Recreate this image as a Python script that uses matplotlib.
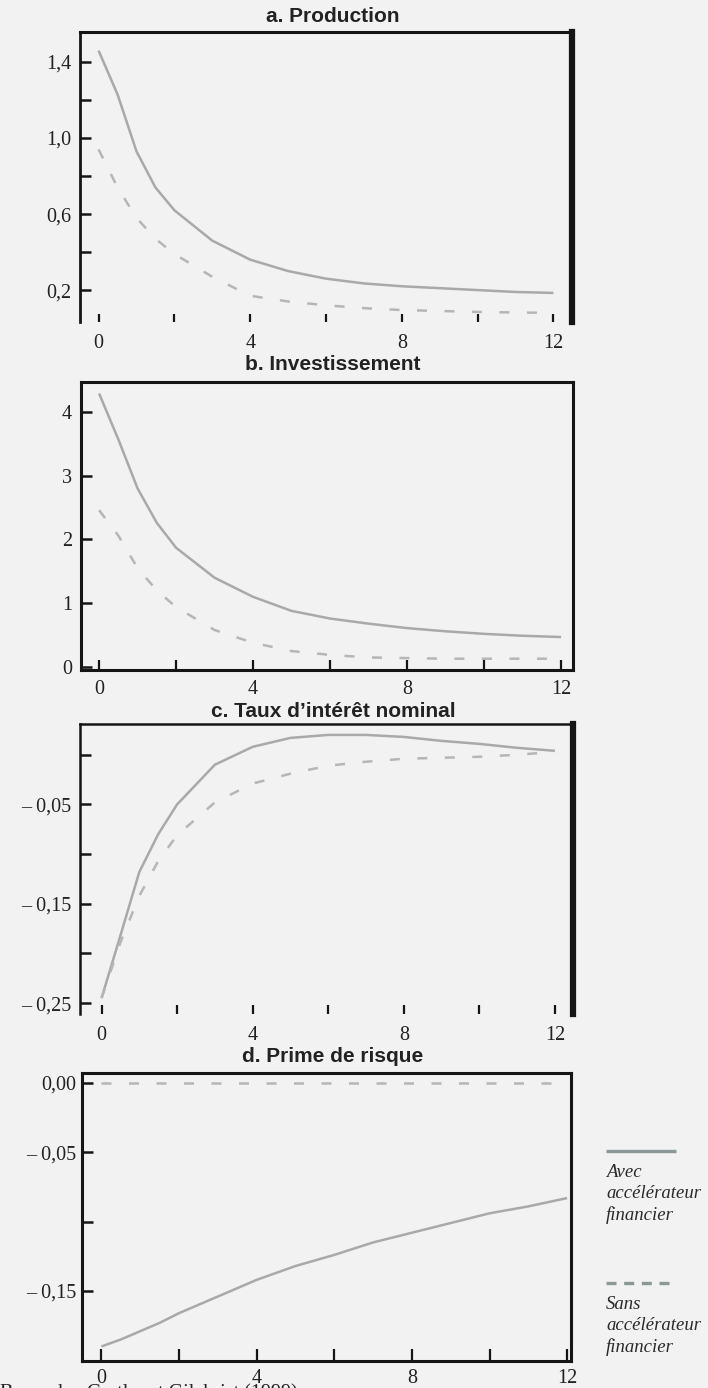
import matplotlib
matplotlib.use('Agg')
import matplotlib.pyplot as plt
from matplotlib.lines import Line2D

# ---------------- data ----------------
periods = [0, 0.5, 1, 1.5, 2, 3, 4, 5, 6, 7, 8, 9, 10, 11, 12]

prod_avec = [1.46, 1.23, 0.93, 0.74, 0.62, 0.46, 0.36, 0.30, 0.26, 0.235, 0.22, 0.21, 0.20, 0.19, 0.185]
prod_sans = [0.94, 0.74, 0.58, 0.47, 0.39, 0.27, 0.17, 0.14, 0.12, 0.105, 0.095, 0.09, 0.085, 0.082, 0.08]

inv_avec = [4.29, 3.57, 2.80, 2.26, 1.87, 1.40, 1.10, 0.88, 0.76, 0.68, 0.61, 0.56, 0.52, 0.49, 0.47]
inv_sans = [2.46, 2.06, 1.55, 1.20, 0.94, 0.58, 0.38, 0.25, 0.19, 0.15, 0.14, 0.13, 0.13, 0.13, 0.13]

taux_avec = [-0.245, -0.182, -0.118, -0.080, -0.050, -0.010, 0.008, 0.017, 0.020, 0.020, 0.018, 0.014, 0.011, 0.007, 0.004]
taux_sans = [-0.245, -0.189, -0.142, -0.107, -0.081, -0.048, -0.029, -0.019, -0.011, -0.007, -0.004, -0.003, -0.002, 0.000, 0.003]

prime_avec = [-0.190, -0.185, -0.179, -0.173, -0.166, -0.154, -0.142, -0.132, -0.124, -0.115, -0.108, -0.101, -0.094, -0.089, -0.083]
prime_sans = [0.0, 0.0, 0.0, 0.0, 0.0, 0.0, 0.0, 0.0, 0.0, 0.0, 0.0, 0.0, 0.0, 0.0, 0.0]

titles = ['a. Production', 'b. Investissement', "c. Taux d\u2019intérêt nominal", 'd. Prime de risque']

x_ticks = [0, 2, 4, 6, 8, 10, 12]
x_labels = ['0', '', '4', '', '8', '', '12']

yticks_a = [0.2, 0.4, 0.6, 0.8, 1.0, 1.2, 1.4]
ylabels_a = ['0,2', '', '0,6', '', '1,0', '', '1,4']
yticks_b = [0, 1, 2, 3, 4]
ylabels_b = ['0', '1', '2', '3', '4']
yticks_c = [0.0, -0.05, -0.10, -0.15, -0.20, -0.25]
ylabels_c = ['', '\u2013 0,05', '', '\u2013 0,15', '', '\u2013 0,25']
yticks_d = [0.0, -0.05, -0.10, -0.15]
ylabels_d = ['0,00', '\u2013 0,05', '', '\u2013 0,15']

legend_avec = 'Avec\naccélérateur\nfinancier'
legend_sans = 'Sans\naccélérateur\nfinancier'
source = 'Bernanke, Gertler et Gilchrist (1999)'

# ---------------- style ----------------
W, H, DPI = 708, 1388, 100
BG = '#f2f2f2'
SOLID_C = '#a9a9a9'
DASH_C = '#b6b6b6'
LEG_C = '#8c9797'
SPINE_C = '#151515'
SERIF = ['Liberation Serif', 'DejaVu Serif']
SANS = ['Liberation Sans', 'DejaVu Sans']

fig = plt.figure(figsize=(W / DPI, H / DPI), dpi=DPI, facecolor=BG)


def add_ax(l, t, r, b):
    ax = fig.add_axes([l / W, 1 - b / H, (r - l) / W, (b - t) / H])
    ax.set_facecolor(BG)
    return ax


panels = [
    dict(box=(80, 32, 572, 322), xlim=(-0.49, 12.49), ylim=(0.032, 1.558),
         yt=yticks_a, yl=ylabels_a, avec=prod_avec, sans=prod_sans,
         spines=dict(top=2.2, left=2.0, right=4.5, bottom=None), xpad=9.0, ypad=6.5,
         xtlen=6, ty=17),
    dict(box=(81, 382, 573, 670), xlim=(-0.47, 12.31), ylim=(-0.047, 4.47),
         yt=yticks_b, yl=ylabels_b, avec=inv_avec, sans=inv_sans,
         spines=dict(top=2.2, left=2.2, right=2.2, bottom=2.2), xpad=7.0, ypad=6.5,
         xtlen=7, ty=365),
    dict(box=(80, 724, 573, 1014), xlim=(-0.57, 12.48), ylim=(-0.261, 0.031),
         yt=yticks_c, yl=ylabels_c, avec=taux_avec, sans=taux_sans,
         spines=dict(top=1.8, left=1.8, right=4.5, bottom=None), xpad=9.0, ypad=6.5,
         xtlen=6.5, ty=711),
    dict(box=(82, 1073, 571, 1361), xlim=(-0.5, 12.1), ylim=(-0.2005, 0.0072),
         yt=yticks_d, yl=ylabels_d, avec=prime_avec, sans=prime_sans,
         spines=dict(top=2.2, left=2.2, right=2.2, bottom=2.2), xpad=5.5, ypad=4.0,
         xtlen=8.5, ty=1057),
]

for p, title in zip(panels, titles):
    ax = add_ax(*p['box'])
    ax.plot(periods, p['avec'], color=SOLID_C, lw=1.8, solid_capstyle='butt', zorder=3)
    ax.plot(periods, p['sans'], color=DASH_C, lw=1.8, dashes=(4, 7), zorder=3)
    ax.set_xlim(*p['xlim'])
    ax.set_ylim(*p['ylim'])

    for side, lw in p['spines'].items():
        if lw is None:
            ax.spines[side].set_visible(False)
        else:
            ax.spines[side].set_linewidth(lw)
            ax.spines[side].set_color(SPINE_C)

    ax.set_xticks(x_ticks, x_labels)
    ax.set_yticks(p['yt'], p['yl'])
    ax.tick_params(axis='y', direction='in', length=8, width=1.8, color=SPINE_C,
                   pad=p['ypad'], labelsize=14.5, labelcolor='#222222')
    ax.tick_params(axis='x', direction='in', length=p['xtlen'], width=1.6, color=SPINE_C,
                   pad=p['xpad'], labelsize=14.5, labelcolor='#222222')
    for lab in ax.get_xticklabels() + ax.get_yticklabels():
        lab.set_family(SERIF)

    fig.text(333 / W, 1 - p['ty'] / H, title, ha='center', va='center',
             fontsize=15, fontweight='bold', family=SANS, color='#222222')

# ---------------- legend (right side) ----------------
fig.add_artist(Line2D([606 / W, 676 / W], [1 - 1151 / H, 1 - 1151 / H],
                      transform=fig.transFigure, color=LEG_C, lw=2.4,
                      solid_capstyle='butt'))
fig.add_artist(Line2D([606 / W, 676 / W], [1 - 1283 / H, 1 - 1283 / H],
                      transform=fig.transFigure, color=LEG_C, lw=2.4,
                      dashes=(3, 2.3)))
fig.text(606 / W, 1 - 1194 / H, legend_avec, ha='left', va='center',
         fontsize=13.5, style='italic', family=SERIF, color='#2a2a2a', linespacing=1.3)
fig.text(606 / W, 1 - 1326 / H, legend_sans, ha='left', va='center',
         fontsize=13.5, style='italic', family=SERIF, color='#2a2a2a', linespacing=1.3)

# ---------------- source (cut by the bottom edge) ----------------
fig.text(0.0, 1 - 1398 / H, source, ha='left', va='baseline',
         fontsize=14.5, family=SERIF, color='#222222')

fig.savefig('out.png', dpi=DPI, facecolor=BG)
